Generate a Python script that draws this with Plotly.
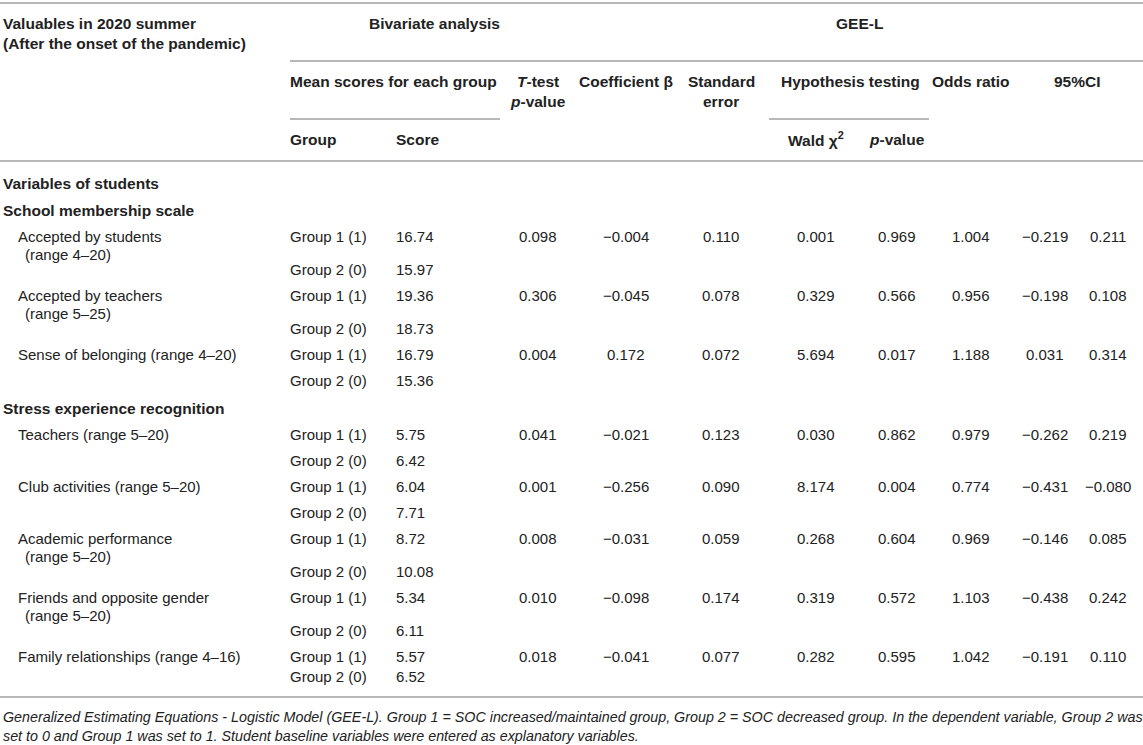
import plotly.graph_objects as go

# ---------------- data ----------------
header_title = ["Valuables in 2020 summer", "(After the onset of the pandemic)"]
header_spans = ["Bivariate analysis", "GEE-L"]
sections = ["Variables of students", "School membership scale", "Stress experience recognition"]
variables = [
    "Accepted by students",
    "Accepted by teachers",
    "Sense of belonging (range 4–20)",
    "Teachers (range 5–20)",
    "Club activities (range 5–20)",
    "Academic performance",
    "Friends and opposite gender",
    "Family relationships (range 4–16)",
]
variable_ranges = ["(range 4–20)", "(range 5–25)", "", "", "", "(range 5–20)", "(range 5–20)", ""]
variable_section = [1, 1, 1, 2, 2, 2, 2, 2]
groups = ["Group 1 (1)", "Group 2 (0)"]
score_group1 = [16.74, 19.36, 16.79, 5.75, 6.04, 8.72, 5.34, 5.57]
score_group2 = [15.97, 18.73, 15.36, 6.42, 7.71, 10.08, 6.11, 6.52]
ttest_p = [0.098, 0.306, 0.004, 0.041, 0.001, 0.008, 0.010, 0.018]
coef_beta = [-0.004, -0.045, 0.172, -0.021, -0.256, -0.031, -0.098, -0.041]
std_error = [0.110, 0.078, 0.072, 0.123, 0.090, 0.059, 0.174, 0.077]
wald_chi2 = [0.001, 0.329, 5.694, 0.030, 8.174, 0.268, 0.319, 0.282]
wald_p = [0.969, 0.566, 0.017, 0.862, 0.004, 0.604, 0.572, 0.595]
odds_ratio = [1.004, 0.956, 1.188, 0.979, 0.774, 0.969, 1.103, 1.042]
ci_low = [-0.219, -0.198, 0.031, -0.262, -0.431, -0.146, -0.438, -0.191]
ci_high = [0.211, 0.108, 0.314, 0.219, -0.080, 0.085, 0.242, 0.110]
footnote = [
    "Generalized Estimating Equations - Logistic Model (GEE-L). Group 1 = SOC increased/maintained group, "
    "Group 2 = SOC decreased group. In the dependent variable, Group 2 was",
    "set to 0 and Group 1 was set to 1. Student baseline variables were entered as explanatory variables.",
]

# ---------------- style / layout constants ----------------
W, H = 1143, 745
FONT = "Liberation Sans, Arial, Helvetica, sans-serif"
TXT = "#222222"
RULE = "#b8b8b8"
FS = 15
FS_BOLD = 15.5
FS_NOTE = 14.3

X_LEFT = 3
X_VAR = 18
X_RANGE = 25
X_GROUP = 290
X_SCORE = 396
X_T = 538
X_COEF = 626
X_SE = 721
X_WALD = 816
X_P = 897
X_OR = 971
X_CIL = 1045
X_CIH = 1108
X_BIV = 434
X_GEE = 859
X_HYP = 850
X_CI = 1077

Y_TOP_RULE = 3
Y_H1, Y_H1b = 23, 43
Y_RULE1 = 61
Y_H2, Y_H2b = 81, 101
Y_RULE2 = 119
Y_H3 = 139
Y_RULE3 = 161

Y_FIRST_SECTION = 183
GAP_SECTION = 27
GAP_AFTER_SUB = 26
GAP_G_SINGLE = 26
GAP_G_DOUBLE = 33
GAP_G_LAST = 20
GAP_RANGE = 18
GAP_BLOCK = 26
GAP_BEFORE_SECTION = 28
GAP_BOTTOM_RULE = 21
GAP_NOTE = 20
GAP_NOTE_LINE = 19

fig = go.Figure()


def txt(x, y, text, anchor="left", bold=False, italic=False, size=None):
    if size is None:
        size = FS_BOLD if bold else FS
    if bold:
        text = "<b>" + text + "</b>"
    if italic:
        text = "<i>" + text + "</i>"
    fig.add_annotation(
        x=x, y=y, xref="x", yref="y", text=text, showarrow=False,
        xanchor=anchor, yanchor="middle", borderpad=0, borderwidth=0,
        font=dict(family=FONT, size=size, color=TXT),
    )


def rule(x0, x1, y):
    fig.add_shape(type="line", xref="x", yref="y", x0=x0, x1=x1, y0=y, y1=y,
                  line=dict(color=RULE, width=2))


def f3(v):
    return f"{v:.3f}".replace("-", "−")


def f2(v):
    return f"{v:.2f}"


# ---------------- header ----------------
rule(0, W, Y_TOP_RULE)
txt(X_LEFT, Y_H1, header_title[0], bold=True)
txt(X_LEFT, Y_H1b, header_title[1], bold=True)
txt(X_BIV, Y_H1, header_spans[0], anchor="center", bold=True)
txt(X_GEE, Y_H1, header_spans[1], anchor="center", bold=True)
rule(X_GROUP, W, Y_RULE1)

txt(X_GROUP, Y_H2, "Mean scores for each group", bold=True)
txt(X_T, Y_H2, "<i>T</i>-test", anchor="center", bold=True)
txt(X_T, Y_H2b, "<i>p</i>-value", anchor="center", bold=True)
txt(X_COEF, Y_H2, "Coefficient β", anchor="center", bold=True)
txt(X_SE, Y_H2, "Standard", anchor="center", bold=True)
txt(X_SE, Y_H2b, "error", anchor="center", bold=True)
txt(X_HYP, Y_H2, "Hypothesis testing", anchor="center", bold=True)
txt(X_OR, Y_H2, "Odds ratio", anchor="center", bold=True)
txt(X_CI, Y_H2, "95%CI", anchor="center", bold=True)
rule(X_GROUP, 500, Y_RULE2)
rule(769, 929, Y_RULE2)

txt(X_GROUP, Y_H3, "Group", bold=True)
txt(X_SCORE, Y_H3, "Score", bold=True)
txt(X_WALD, Y_H3, "Wald χ<sup>2</sup>", anchor="center", bold=True)
txt(X_P, Y_H3, "<i>p</i>-value", anchor="center", bold=True)
rule(0, W, Y_RULE3)

# ---------------- body ----------------
y = Y_FIRST_SECTION
txt(X_LEFT, y, sections[0], bold=True)
y += GAP_SECTION
txt(X_LEFT, y, sections[1], bold=True)
y += GAP_AFTER_SUB

prev_g2 = None
n = len(variables)
for i in range(n):
    if i > 0 and variable_section[i] != variable_section[i - 1]:
        ys = prev_g2 + GAP_BEFORE_SECTION
        txt(X_LEFT, ys, sections[variable_section[i]], bold=True)
        y = ys + GAP_AFTER_SUB
    g1 = y
    if variable_ranges[i]:
        g2 = g1 + GAP_G_DOUBLE
    elif i == n - 1:
        g2 = g1 + GAP_G_LAST
    else:
        g2 = g1 + GAP_G_SINGLE
    txt(X_VAR, g1, variables[i])
    if variable_ranges[i]:
        txt(X_RANGE, g1 + GAP_RANGE, variable_ranges[i])
    txt(X_GROUP, g1, groups[0])
    txt(X_GROUP, g2, groups[1])
    txt(X_SCORE, g1, f2(score_group1[i]))
    txt(X_SCORE, g2, f2(score_group2[i]))
    for xc, arr in [(X_T, ttest_p), (X_COEF, coef_beta), (X_SE, std_error),
                    (X_WALD, wald_chi2), (X_P, wald_p), (X_OR, odds_ratio),
                    (X_CIL, ci_low), (X_CIH, ci_high)]:
        txt(xc, g1, f3(arr[i]), anchor="center")
    prev_g2 = g2
    y = g2 + GAP_BLOCK

y_bottom = prev_g2 + GAP_BOTTOM_RULE
rule(0, W, y_bottom)
txt(X_LEFT, y_bottom + GAP_NOTE, footnote[0], italic=True, size=FS_NOTE)
txt(X_LEFT, y_bottom + GAP_NOTE + GAP_NOTE_LINE, footnote[1], italic=True, size=FS_NOTE)

fig.update_layout(
    width=W, height=H,
    margin=dict(l=0, r=0, t=0, b=0),
    paper_bgcolor="white", plot_bgcolor="white",
    showlegend=False, hovermode=False, dragmode=False,
    xaxis=dict(range=[0, W], visible=False, fixedrange=True),
    yaxis=dict(range=[H, 0], visible=False, fixedrange=True),
)

fig.write_html(
    "out.html",
    config={"displayModeBar": False, "staticPlot": True},
    post_script="document.body.style.margin='0';",
)
